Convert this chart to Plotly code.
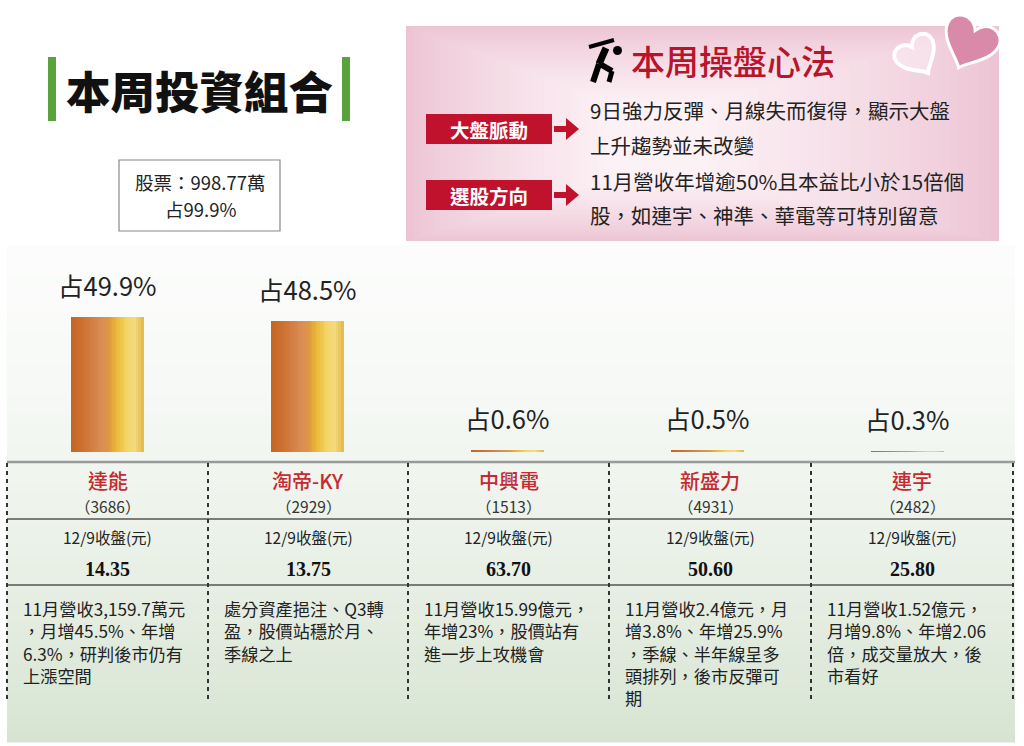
import math
import plotly.graph_objects as go

W, H = 1024, 746

# 持股資料
names = ["達能", "淘帝-KY", "中興電", "新盛力", "連宇"]
codes = ["3686", "2929", "1513", "4931", "2482"]
weights = [49.9, 48.5, 0.6, 0.5, 0.3]
prices = ["14.35", "13.75", "63.70", "50.60", "25.80"]
price_label = "12/9收盤(元)"
notes = [
    ["11月營收3,159.7萬元", "，月增45.5%、年增", "6.3%，研判後市仍有", "上漲空間"],
    ["處分資產挹注、Q3轉", "盈，股價站穩於月、", "季線之上"],
    ["11月營收15.99億元，", "年增23%，股價站有", "進一步上攻機會"],
    ["11月營收2.4億元，月", "增3.8%、年增25.9%", "，季線、半年線呈多", "頭排列，後市反彈可", "期"],
    ["11月營收1.52億元，", "月增9.8%、年增2.06", "倍，成交量放大，後", "市看好"],
]

# 組合總覽
title = "本周投資組合"
stock_total = "股票：998.77萬"
stock_share = "占99.9%"

# 操盤心法
tips_title = "本周操盤心法"
tips = [
    ("大盤脈動", ["9日強力反彈、月線失而復得，顯示大盤", "上升趨勢並未改變"]),
    ("選股方向", ["11月營收年增逾50%且本益比小於15倍個", "股，如連宇、神準、華電等可特別留意"]),
]

CJK = "Noto Sans CJK TC"
RED = "#c0122c"


def px(x):
    return x / W


def py(y):
    return 1 - y / H


def path(points):
    s = "M " + " L ".join(f"{px(x):.5f},{py(y):.5f}" for x, y in points)
    return s + " Z"


def mix(c1, c2, t):
    return tuple(int(round(a + (b - a) * t)) for a, b in zip(c1, c2))


def text(x, y, s, size, color="#222222", anchor="center", family=CJK, weight="normal"):
    return dict(x=px(x), y=py(y), xref="paper", yref="paper", text=s, showarrow=False,
                xanchor=anchor, yanchor="middle",
                font=dict(family=family, size=size, color=color, weight=weight))


fig = go.Figure()

# 圓柱漸層：以多條窄柱疊出
bar_w = 0.365
stops = [(0.0, (197, 99, 34)), (0.2, (206, 116, 52)), (0.42, (218, 140, 86)),
         (0.52, (222, 150, 72)), (0.62, (233, 182, 52)), (0.76, (243, 212, 100)),
         (0.88, (244, 218, 128)), (1.0, (226, 184, 70))]
n = 28
sw = bar_w / n
for i in range(n):
    t = (i + 0.5) / n
    for (t0, c0), (t1, c1) in zip(stops[:-1], stops[1:]):
        if t0 <= t <= t1:
            c = mix(c0, c1, (t - t0) / (t1 - t0))
            break
    fig.add_trace(go.Bar(
        x=list(range(len(names))), y=weights,
        width=sw * 1.1, offset=-bar_w / 2 + i * sw,
        marker=dict(color=f"rgb{c}", line=dict(width=0)),
        hoverinfo="skip", showlegend=False,
    ))

shapes = []
annotations = []

# 綠色漸層底
bands = 50
top, bottom = 245, 742
for k in range(bands):
    t = (k + 0.5) / bands
    r, g, b = mix((251, 252, 251), (214, 228, 209), t ** 1.6)
    y0 = top + (bottom - top) * k / bands
    y1 = top + (bottom - top) * (k + 1) / bands + 0.5
    shapes.append(dict(type="rect", xref="paper", yref="paper", layer="below",
                       x0=px(7), x1=px(1015), y0=py(y1), y1=py(y0),
                       fillcolor=f"rgb({r},{g},{b})", line=dict(width=0)))

# 粉紅框
steps = 30
for k in range(steps):
    t = k / (steps - 1)
    r, g, b = mix((237, 196, 212), (252, 241, 245), t ** 0.8)
    shapes.append(dict(type="rect", xref="paper", yref="paper", layer="below",
                       x0=px(406 + 200 * t), x1=px(999 - 290 * t),
                       y0=py(241 - 60 * t), y1=py(26 + 75 * t),
                       fillcolor=f"rgb({r},{g},{b})", line=dict(width=0)))


# 愛心
def heart(cx, cy, s, ang):
    a = math.radians(ang)
    pts = []
    ctrl = [(0, 1), (-0.2, 0.7), (-1, 0.3), (-1, -0.3), (-1, -0.8), (-0.3, -1.0), (0, -0.45),
            (0.3, -1.0), (1, -0.8), (1, -0.3), (1, 0.3), (0.2, 0.7), (0, 1)]
    for x, y in ctrl:
        xr = x * math.cos(a) - y * math.sin(a)
        yr = x * math.sin(a) + y * math.cos(a)
        pts.append((cx + s * xr, cy + s * yr))
    d = f"M {px(pts[0][0]):.5f},{py(pts[0][1]):.5f}"
    for j in range(1, len(pts), 3):
        d += " C " + " ".join(f"{px(x):.5f},{py(y):.5f}" for x, y in pts[j:j + 3])
    return d + " Z"


shapes.append(dict(type="path", xref="paper", yref="paper", path=heart(917, 55, 21, -32),
                   fillcolor="rgba(250,235,242,0.6)", line=dict(color="white", width=4)))
shapes.append(dict(type="path", xref="paper", yref="paper", path=heart(970, 42, 28, 24),
                   fillcolor="#d98aa9", line=dict(color="white", width=3)))

# 高爾夫球員圖示
for x0, y0, x1, y1, wd in [(589, 47, 614, 40, 4), (606, 48, 599, 64, 7), (599, 64, 593, 82, 6),
                           (600, 64, 612, 71, 6), (612, 71, 609, 82, 5)]:
    shapes.append(dict(type="line", xref="paper", yref="paper",
                       x0=px(x0), y0=py(y0), x1=px(x1), y1=py(y1),
                       line=dict(color="black", width=wd)))
shapes.append(dict(type="circle", xref="paper", yref="paper",
                   x0=px(613), x1=px(622), y0=py(55), y1=py(46),
                   fillcolor="black", line=dict(width=0)))

# 標題兩側綠條
for x in (52, 346):
    shapes.append(dict(type="rect", xref="paper", yref="paper",
                       x0=px(x - 4), x1=px(x + 4), y0=py(121), y1=py(57),
                       fillcolor="#5aa33c", line=dict(width=0)))

# 股票總覽框
shapes.append(dict(type="rect", xref="paper", yref="paper",
                   x0=px(119), x1=px(280), y0=py(231), y1=py(160),
                   fillcolor="white", line=dict(color="#888888", width=1.2)))

# 紅色標籤與箭頭
for (label, lines), yc in zip(tips, (129, 195)):
    shapes.append(dict(type="rect", xref="paper", yref="paper",
                       x0=px(426), x1=px(552), y0=py(yc + 15), y1=py(yc - 15),
                       fillcolor=RED, line=dict(width=0)))
    shapes.append(dict(type="path", xref="paper", yref="paper",
                       path=path([(554, yc - 3), (566, yc - 3), (566, yc - 11), (579, yc),
                                  (566, yc + 11), (566, yc + 3), (554, yc + 3)]),
                       fillcolor=RED, line=dict(width=0)))
    annotations.append(text(489, yc, label, 19.5, "white", weight="bold"))

for ys, (label, lines) in zip(((110, 145), (181, 215)), tips):
    for yy, line in zip(ys, lines):
        annotations.append(text(588, yy, line, 20.5, anchor="left"))

# 表格線
cols = [7, 208, 408, 609, 811, 1013]
shapes.append(dict(type="line", xref="paper", yref="paper", x0=px(7), x1=px(1015),
                   y0=py(462), y1=py(462), line=dict(color="#9a9a9a", width=2.5)))
for yy in (519, 585):
    shapes.append(dict(type="line", xref="paper", yref="paper", x0=px(7), x1=px(1013),
                       y0=py(yy), y1=py(yy), line=dict(color="#555555", width=1.5)))
for x in cols:
    shapes.append(dict(type="line", xref="paper", yref="paper", x0=px(x), x1=px(x),
                       y0=py(463), y1=py(700), line=dict(color="#333333", width=2, dash="4px,4px")))

# 文字
annotations.append(text(199, 90, title, 44.5, "#111111", weight=900))
annotations.append(text(200, 182, stock_total, 18.5))
annotations.append(text(200, 209, stock_share, 18.5))
annotations.append(text(733, 61, tips_title, 34, "#b8142c", weight=500))

for i in range(len(names)):
    annotations.append(dict(x=i, y=weights[i], xref="x", yref="y", yshift=33,
                            text=f"占{weights[i]}%", showarrow=False,
                            font=dict(family=CJK, size=25.5, color="#222222")))
    cx = (cols[i] + cols[i + 1]) / 2
    annotations.append(text(cx, 480, names[i], 20, "#c42a30", weight=500))
    annotations.append(text(cx, 506, f"（{codes[i]}）", 15.5, "#333333"))
    annotations.append(text(cx, 537, price_label, 15.5))
    annotations.append(text(cx, 569, prices[i], 20, "#111111", family="Liberation Serif",
                            weight="bold"))
    note = text(cols[i] + 14, 594, "<br>".join(notes[i]), 17.2, anchor="left")
    note.update(yanchor="top", align="left")
    annotations.append(note)

fig.update_layout(
    width=W, height=H,
    margin=dict(l=0, r=0, t=0, b=0),
    paper_bgcolor="white",
    plot_bgcolor="rgba(0,0,0,0)",
    barmode="overlay",
    bargap=0,
    showlegend=False,
    xaxis=dict(domain=[px(7), px(1007)], range=[-0.5, 4.5], visible=False, fixedrange=True),
    yaxis=dict(domain=[py(452), py(282)], range=[0, 170 / 2.7], visible=False, fixedrange=True),
    shapes=shapes,
    annotations=annotations,
)

fig.write_html("out.html", config={"displayModeBar": False},
               post_script="document.body.style.margin='0';")
